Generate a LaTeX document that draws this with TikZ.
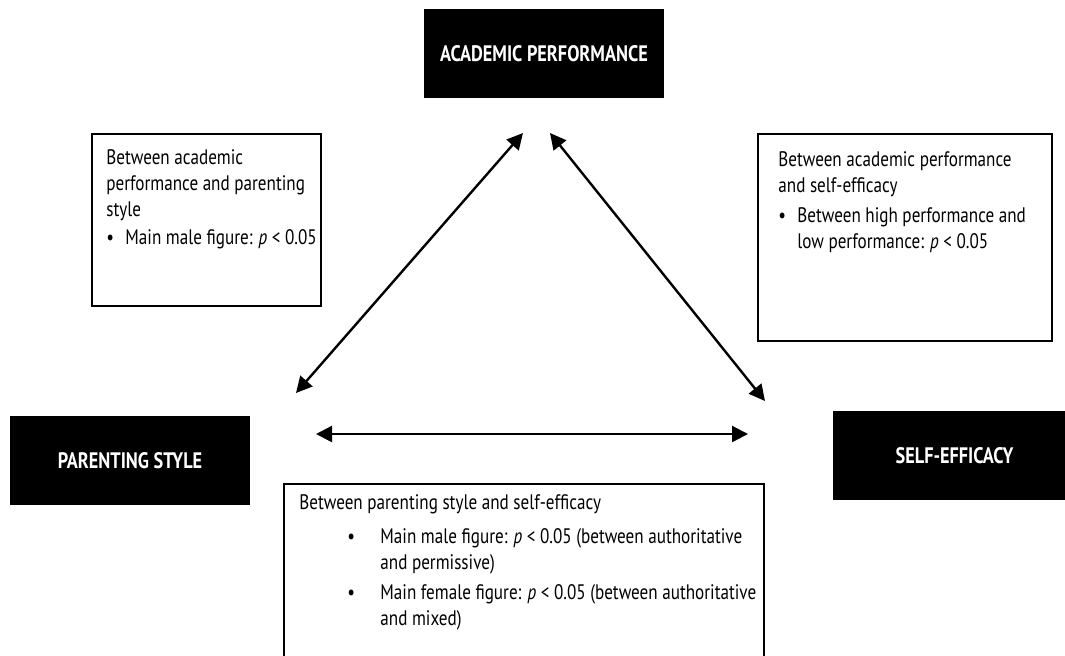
\documentclass[tikz,border=0pt]{standalone}
\usepackage{fontspec}
\setmainfont[FakeStretch=0.815]{PT Sans}
\usetikzlibrary{arrows.meta}
\newcommand\itm{\makebox[9.5pt][l]{\textbullet}}
\begin{document}
\begin{tikzpicture}[x=0.5pt,y=-0.5pt,font=\fontsize{10.5}{13}\selectfont,
  var/.style={fill=black,text=white,font=\fontsize{11.2}{13}\selectfont\bfseries,minimum width=120pt,minimum height=44.5pt,inner sep=0pt},
  note/.style={draw,line width=0.9pt,anchor=north west,inner sep=0pt},
  notetext/.style={anchor=north west,inner sep=0pt,align=left}]
\useasboundingbox (0,0) rectangle (1065,655);
\clip (0,0) rectangle (1065,655);
% the three variables
\node[var] (ap) at (544,53.5) {ACADEMIC PERFORMANCE};
\node[var] (ps) at (130,460.5) {PARENTING STYLE};
\node[var,minimum width=121.5pt] (se) at (954.5,455.5) {SELF-EFFICACY};
% the three findings
\node[note,minimum width=114.5pt,minimum height=86pt] (apps) at (91,133) {};
\node[notetext] (apps-t) at ([shift={(7.5pt,-8pt)}]apps.north west) {Between academic\\performance and parenting\\style\\[1pt]
  \itm Main male figure: \textit{p} < 0.05};
\node[note,minimum width=147pt,minimum height=103.5pt] (apse) at (757,133) {};
\node[notetext] (apse-t) at ([shift={(10.5pt,-9pt)}]apse.north west) {Between academic performance\\and self-efficacy\\[2pt]
  \itm Between high performance and\\\hspace*{9.5pt}low performance: \textit{p} < 0.05};
\node[note,minimum width=240pt,minimum height=100pt] (psse) at (283,483) {};
\node[notetext] (psse-t) at ([shift={(8pt,-5.5pt)}]psse.north west) {Between parenting style and self-efficacy\\[4pt]
  \hspace*{24pt}\makebox[16.5pt][l]{\textbullet}Main male figure: \textit{p} < 0.05 (between authoritative\\\hspace*{40.5pt}and permissive)\\[2pt]
  \hspace*{24pt}\makebox[16.5pt][l]{\textbullet}Main female figure: \textit{p} < 0.05 (between authoritative\\\hspace*{40.5pt}and mixed)};
% arrow ends
\coordinate (a1) at (523,133);
\coordinate (a2) at (296,393);
\coordinate (b1) at (550,133);
\coordinate (b2) at (765,401);
\coordinate (c1) at (316,434);
\coordinate (c2) at (748,434);
\draw[line width=1.2pt,{Triangle[length=8pt,width=8pt]}-{Triangle[length=8pt,width=8pt]}](a1)--(a2);
\draw[line width=1.2pt,{Triangle[length=8pt,width=8pt]}-{Triangle[length=8pt,width=8pt]}](b1)--(b2);
\draw[line width=1.2pt,{Triangle[length=8pt,width=8pt]}-{Triangle[length=8pt,width=8pt]}](c1)--(c2);
\end{tikzpicture}
\end{document}
